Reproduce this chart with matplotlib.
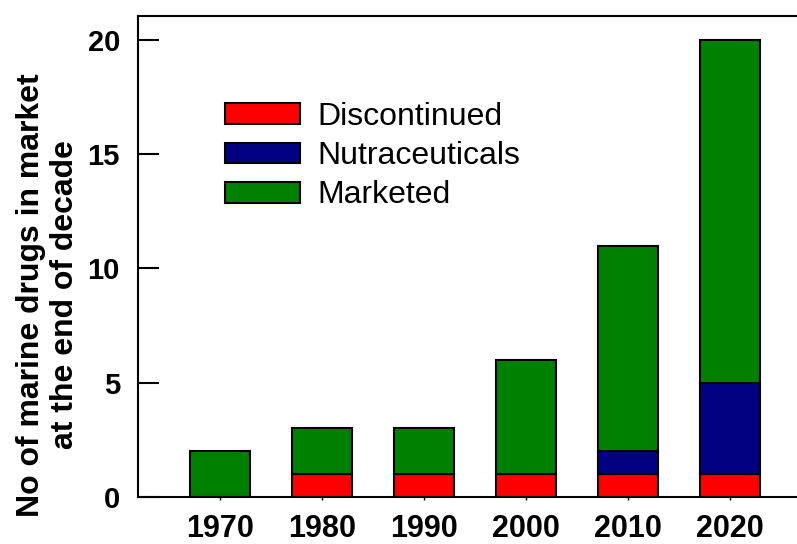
import matplotlib
matplotlib.use("Agg")
import matplotlib.pyplot as plt
import numpy as np

plt.rcParams['font.family'] = ['Liberation Sans', 'DejaVu Sans']

decades = ["1970", "1980", "1990", "2000", "2010", "2020"]
discontinued = [0, 1, 1, 1, 1, 1]
nutraceuticals = [0, 0, 0, 0, 1, 4]
marketed = [2, 2, 2, 5, 9, 15]
yticks = [0, 5, 10, 15, 20]

W, H = 797, 544
fig = plt.figure(figsize=(W/100, H/100), dpi=100)
ax = fig.add_axes([138/W, 1-497/H, (800-138)/W, (497-16)/H])

x = np.arange(len(decades))
disc = np.array(discontinued)
nut = np.array(nutraceuticals)
mkt = np.array(marketed)
bw = 0.59
kw = dict(width=bw, edgecolor='black', linewidth=1.5)
ax.bar(x, disc, color='#FF0000', label='Discontinued', **kw)
ax.bar(x, nut, bottom=disc, color='#000080', label='Nutraceuticals', **kw)
ax.bar(x, mkt, bottom=disc+nut, color='#008000', label='Marketed', **kw)

ax.set_xlim(-0.804, 5.686)
ax.set_ylim(0, 21.05)
ax.set_xticks(x)
ax.set_xticklabels(decades, fontsize=22, fontweight='bold')
ax.set_yticks(yticks)
ax.set_yticklabels([str(v) for v in yticks], fontsize=21, fontweight='bold')
ax.tick_params(axis='y', direction='in', length=15, width=1.5, pad=13)
ax.tick_params(axis='x', direction='out', length=2, width=1, pad=10)
ax.spines['right'].set_visible(False)
for s in ['left', 'top', 'bottom']:
    ax.spines[s].set_linewidth(1.5)

leg = ax.legend(loc='upper left', bbox_to_anchor=(0.112, 0.848), frameon=False,
                fontsize=23, handlelength=2.35, handleheight=0.62,
                handletextpad=0.55, labelspacing=0.29, borderaxespad=0)

fig.text(48/W, 1-295/H, "No of marine drugs in market\nat the end of decade",
         rotation=90, ha='center', va='center', fontsize=23, fontweight='bold',
         linespacing=1.2, multialignment='center')

fig.savefig("out.png", dpi=100)
